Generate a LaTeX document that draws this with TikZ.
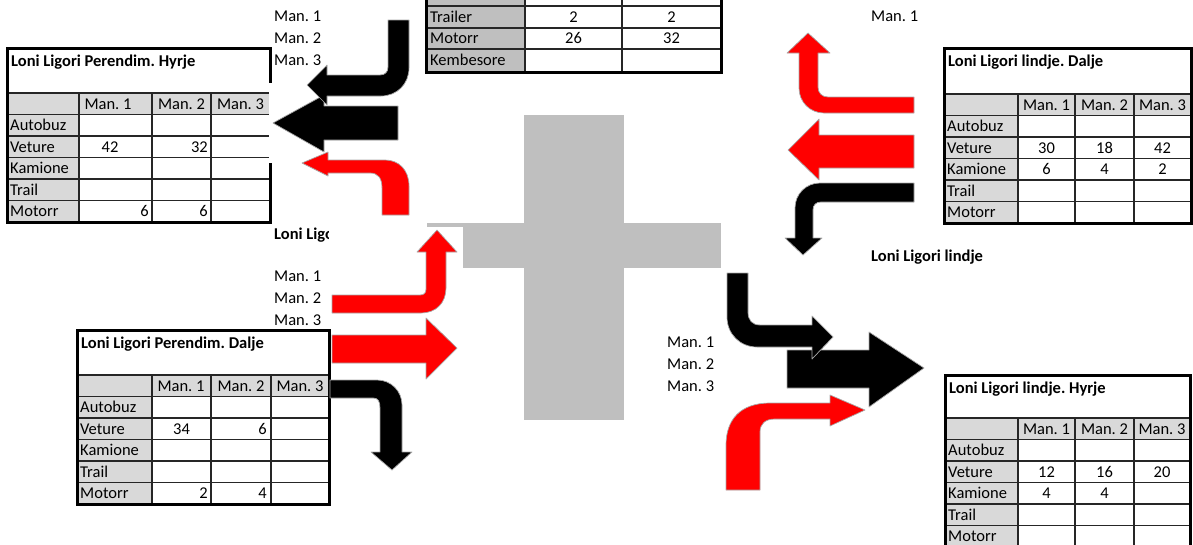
\documentclass[tikz,border=0pt]{standalone}
\usepackage{fontspec}
\setmainfont{Carlito}
\frenchspacing
\definecolor{hdrgray}{HTML}{D9D9D9}
\definecolor{labgray}{HTML}{BFBFBF}
\definecolor{roadgray}{HTML}{BFBFBF}
\definecolor{edgegray}{HTML}{A8A8A8}

% One counting table: #1 name, #2..#6 column edges, #7 top, #8 bottom of title band, #9 title
\newcommand\lonitable[9]{%
  \fill[white] (#2,#7) rectangle (#6,#8+6*21.5);
  \fill[hdrgray] (#2,#8) rectangle (#6,#8+21.5);
  \fill[hdrgray] (#2,#8) rectangle (#3,#8+6*21.5);
  \foreach \k in {0,...,5} \draw[tabline] (#2,#8+\k*21.5) -- (#6,#8+\k*21.5);
  \foreach \xx in {#3,#4,#5} \draw[tabline] (\xx,#8) -- (\xx,#8+6*21.5);
  \draw[tabframe] (#2,#7) rectangle (#6,#8+6*21.5);
  \node[ttl, anchor=west] (#1-title) at (#2+4,#7+13) {#9};
  \node[txt] (#1-h1) at ({min((#3+#4)/2,#3+29)},#8+10.75) {Man. 1};
  \node[txt] (#1-h2) at ({(#4+#5)/2},#8+10.75) {Man. 2};
  \node[txt] (#1-h3) at ({(#5+#6)/2},#8+10.75) {Man. 3};
  \foreach \lab [count=\i] in {Autobuz,Veture,Kamione,Trail,Motorr}
    \node[rowlab] (#1-r\i) at (#2+3,#8+\i*21.5+10.75) {\lab};
}

\begin{document}
\begin{tikzpicture}[x=1pt,y=-1pt,
  txt/.style={inner sep=0pt, text height=10.6pt, text depth=0pt, font=\fontsize{16.5}{19}\selectfont},
  ttl/.style={txt, font=\fontsize{16.5}{19}\selectfont\bfseries},
  rowlab/.style={txt, anchor=west},
  valr/.style={txt, anchor=east},
  tabframe/.style={line width=3pt, draw=black},
  tabline/.style={line width=1.4pt, draw=black!85},
  arrowbody/.style={draw=edgegray, line width=0.7pt, line join=round},
  blk/.style={arrowbody, fill=black},
  rd/.style={arrowbody, fill=red},
]
\useasboundingbox (0,0) rectangle (1193,544);
\clip (0,0) rectangle (1193,544);

% ---------- crossroads ----------
\fill[roadgray] (524,115) rectangle (624,420);
\fill[roadgray] (463,223) rectangle (721,268);
\fill[roadgray] (427,223) rectangle (463,226.5);

% ---------- tables ----------
\lonitable{tl}{7}{79}{152}{211}{270}{48}{93}{Loni Ligori Perendim. Hyrje}
\node[txt] (tl-v11) at (110,147) {42};
\node[valr] (tl-v21) at (208,147) {32};
\node[valr] (tl-v15) at (149,211) {6};
\node[valr] (tl-v25) at (208,211) {6};
\fill[white] (269,83) rectangle (290,163);

\lonitable{bl}{77}{152}{211}{271}{329}{330}{375}{Loni Ligori Perendim. Dalje}
\node[txt] (bl-v11) at (181.5,429) {34};
\node[valr] (bl-v21) at (267,429) {6};
\node[valr] (bl-v15) at (208,493.5) {2};
\node[valr] (bl-v25) at (267,493.5) {4};

\lonitable{tr}{944}{1018}{1075}{1134}{1191}{48}{94}{Loni Ligori lindje. Dalje}
\node[txt] (tr-v12) at (1046.5,148) {30};
\node[txt] (tr-v22) at (1104.5,148) {18};
\node[txt] (tr-v32) at (1162.5,148) {42};
\node[txt] (tr-v13) at (1046.5,169.5) {6};
\node[txt] (tr-v23) at (1104.5,169.5) {4};
\node[txt] (tr-v33) at (1162.5,169.5) {2};

\lonitable{br}{945}{1018}{1075}{1134}{1190}{375}{418}{Loni Ligori lindje. Hyrje}
\node[txt] (br-v12) at (1046.5,472) {12};
\node[txt] (br-v22) at (1104.5,472) {16};
\node[txt] (br-v32) at (1162,472) {20};
\node[txt] (br-v13) at (1046.5,493.5) {4};
\node[txt] (br-v23) at (1104.5,493.5) {4};

% north table, only its lower rows
\fill[labgray] (426,-10) rectangle (525,72);
\fill[white] (525,-10) rectangle (721,72);
\foreach \yy in {6,28,49} \draw[tabline] (426,\yy) -- (721,\yy);
\foreach \xx in {525,622} \draw[tabline] (\xx,-10) -- (\xx,72);
\draw[tabframe] (426,-10) -- (426,72) -- (721,72) -- (721,-10);
\node[rowlab] (n-r1) at (430,17) {Trailer};
\node[rowlab] (n-r2) at (430,38.5) {Motorr};
\node[rowlab] (n-r3) at (430,60) {Kembesore};
\node[txt] (n-v11) at (573.5,17) {2};
\node[txt] (n-v21) at (671.5,17) {2};
\node[txt] (n-v12) at (573.5,38.5) {26};
\node[txt] (n-v22) at (671.5,38.5) {32};

% ---------- movement labels ----------
\node[rowlab] (w1) at (274,16.5) {Man. 1};
\node[rowlab] (w2) at (274,38.5) {Man. 2};
\node[rowlab] (w3) at (274,60.5) {Man. 3};
\begin{scope}
  \clip (270,220) rectangle (328.5,250);
  \node[ttl, anchor=west] (wname) at (274,234) {Loni Ligori Perendim};
\end{scope}
\node[rowlab] (wo1) at (274,276.5) {Man. 1};
\node[rowlab] (wo2) at (274,298.5) {Man. 2};
\node[rowlab] (wo3) at (274,320.5) {Man. 3};

\node[rowlab] (e1) at (871,16.5) {Man. 1};
\node[ttl, anchor=west] (ename) at (871,256) {Loni Ligori lindje};
\node[rowlab] (ei1) at (667,342) {Man. 1};
\node[rowlab] (ei2) at (667,364) {Man. 2};
\node[rowlab] (ei3) at (667,386.5) {Man. 3};

% ---------- turning arrows, west approach ----------
\path[blk] (398,106) -- (324,106) -- (324,95) -- (273,123) -- (324,152)
  -- (324,140) -- (398,140) -- cycle;
\path[blk] (388,20) -- (409,20) -- (409,68) .. controls (409,84) and (397,96) .. (381,96)
  -- (327,96) -- (327,105) -- (307,85) -- (327,65) -- (327,75) -- (380,75)
  .. controls (385,75) and (388,72) .. (388,67) -- cycle;
\path[rd] (302,163) -- (328,152) -- (328,160) -- (385,160)
  .. controls (399,160) and (409,170) .. (409,186) -- (409,215) -- (382,215)
  -- (382,188) .. controls (382,178) and (378,173) .. (370,173) -- (328,173)
  -- (328,176) -- cycle;

% ---------- turning arrows, west exit ----------
\path[rd] (332,335) -- (426,335) -- (426,318) -- (457,348) -- (426,379)
  -- (426,363) -- (332,363) -- cycle;
\path[rd] (332,295) -- (420,295) .. controls (424,295) and (426,293) .. (426,289)
  -- (426,252) -- (417,252) -- (437,230) -- (457,252) -- (446,252) -- (446,288)
  .. controls (446,303) and (436,313) .. (421,313) -- (332,313) -- cycle;
\path[blk] (330,380) -- (377,380) .. controls (391,380) and (402,391) .. (402,405)
  -- (402,452) -- (412,452) -- (392,470) -- (371,452) -- (380,452) -- (380,408)
  .. controls (380,401) and (378,398) .. (373,398) -- (330,398) -- cycle;

% ---------- turning arrows, east exit ----------
\path[rd] (914,135) -- (819,135) -- (819,119) -- (788,150) -- (819,180)
  -- (819,168) -- (914,168) -- cycle;
\path[rd] (914,97) -- (828,97) .. controls (822,97) and (818,93) .. (818,87)
  -- (818,53) -- (830,53) -- (808,33) -- (787,53) -- (799,53) -- (799,88)
  .. controls (799,102) and (810,113) .. (824,113) -- (914,113) -- cycle;
\path[blk] (914,183) -- (820,183) .. controls (806,183) and (795,194) .. (795,208)
  -- (795,238) -- (785,238) -- (803,255) -- (822,238) -- (813,238) -- (813,210)
  .. controls (813,205) and (816,202) .. (821,202) -- (914,202) -- cycle;

% ---------- turning arrows, east approach ----------
\path[blk] (787,350) -- (869,350) -- (869,332) -- (924,368) -- (869,407)
  -- (869,388) -- (787,388) -- cycle;
\path[blk] (727,273) -- (748,273) -- (748,312) .. controls (748,320) and (752,325) .. (760,325)
  -- (812,325) -- (812,316) -- (833,337) -- (812,359) -- (812,347) -- (757,347)
  .. controls (740,347) and (727,334) .. (727,317) -- cycle;
\path[rd] (726,490) -- (726,445) .. controls (726,420) and (740,403) .. (770,403)
  -- (830,403) -- (830,395) -- (865,410) -- (830,426) -- (830,419) -- (775,419)
  .. controls (765,419) and (760,424) .. (760,432) -- (760,490) -- cycle;
\end{tikzpicture}
\end{document}
